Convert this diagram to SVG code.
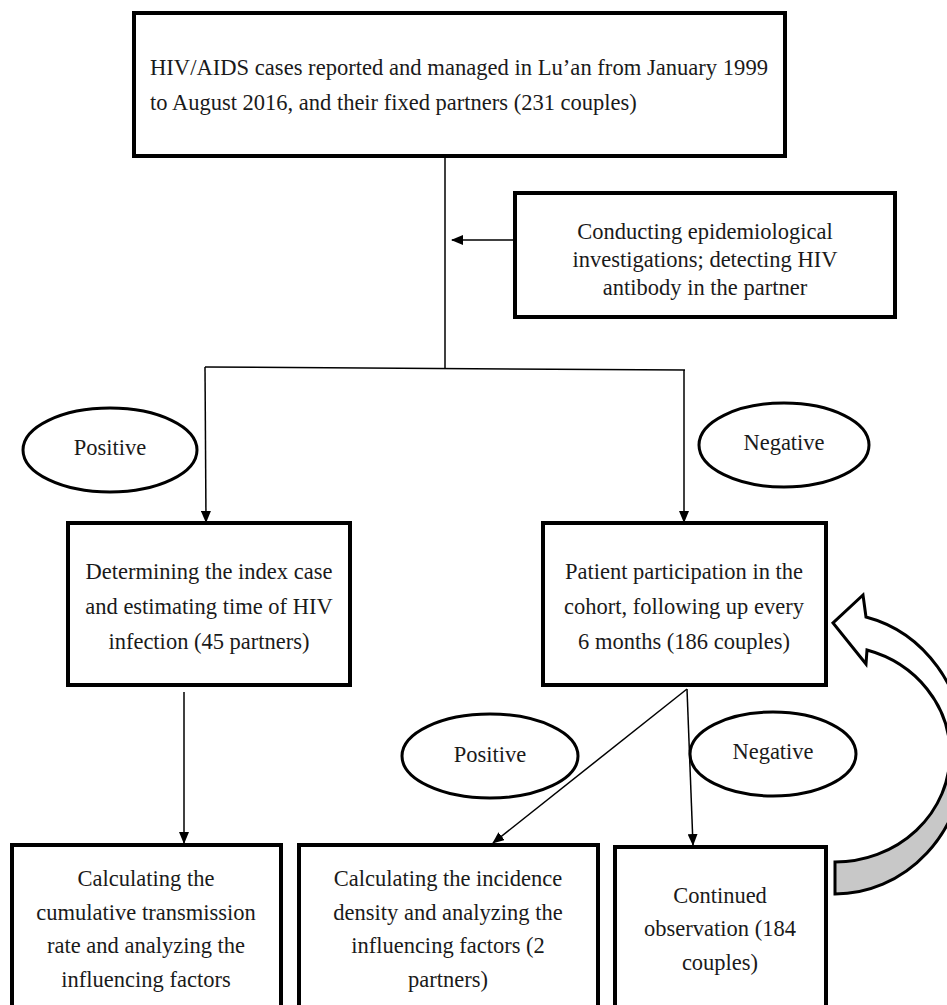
<svg xmlns="http://www.w3.org/2000/svg" width="947" height="1005" viewBox="0 0 947 1005">
<defs>
<style>
.box{fill:#fff;stroke:#000;stroke-width:4}
.ell{fill:#fff;stroke:#000;stroke-width:3}
.t{font-family:"Liberation Serif","Times New Roman",serif;font-size:22.5px;fill:#1a1a1a}
.c{text-anchor:middle}
.ln{fill:none;stroke:#000;stroke-width:1.5}
</style>
<marker id="ah" markerWidth="12" markerHeight="10" refX="11" refY="5" orient="auto" markerUnits="userSpaceOnUse">
<path d="M0,0 L12,5 L0,10 Z" fill="#000"/>
</marker>
</defs>
<rect width="947" height="1005" fill="#fff"/>

<g id="connectors">
<line class="ln" x1="445" y1="156" x2="445" y2="368"/>
<line class="ln" x1="515" y1="240" x2="452" y2="240" marker-end="url(#ah)"/>
<line class="ln" x1="205" y1="367" x2="685" y2="370"/>
<line class="ln" x1="205" y1="367" x2="206" y2="522" marker-end="url(#ah)"/>
<line class="ln" x1="684" y1="370" x2="684" y2="522" marker-end="url(#ah)"/>
<line class="ln" x1="184" y1="692" x2="184" y2="843" marker-end="url(#ah)"/>
<line class="ln" x1="687" y1="689" x2="493" y2="843" marker-end="url(#ah)"/>
<line class="ln" x1="687" y1="689" x2="693" y2="845" marker-end="url(#ah)"/>
</g>

<g id="loop-arrow">
<path d="M835,862 A115,108 0 0 0 950,754 L965,754 A130,140 0 0 1 835,894 Z" fill="#c8c8c8" stroke="#000" stroke-width="3" stroke-linejoin="miter"/>
<path d="M866,617 A130,140 0 0 1 965,754 L950,754 A115,108 0 0 0 867,650 L866,664 L833,623 L863,595 Z" fill="#fff" stroke="#000" stroke-width="3" stroke-linejoin="miter"/>
</g>

<g id="node-top">
<rect class="box" x="134" y="13" width="651" height="143"/>
<text class="t" x="150" y="75" textLength="618" lengthAdjust="spacingAndGlyphs">HIV/AIDS cases reported and managed in Lu’an from January 1999</text>
<text class="t" x="150" y="110">to August 2016, and their fixed partners (231 couples)</text>
</g>

<g id="node-conducting">
<rect class="box" x="515" y="193" width="380" height="124"/>
<text class="t c" x="705" y="239">Conducting epidemiological</text>
<text class="t c" x="705" y="267">investigations; detecting HIV</text>
<text class="t c" x="705" y="295">antibody in the partner</text>
</g>

<g id="label-positive-1">
<ellipse class="ell" cx="110" cy="450" rx="87" ry="42"/>
<text class="t c" x="110" y="455">Positive</text>
</g>

<g id="label-negative-1">
<ellipse class="ell" cx="784" cy="445" rx="85" ry="42"/>
<text class="t c" x="784" y="450">Negative</text>
</g>

<g id="node-index">
<rect class="box" x="68" y="523" width="282" height="162"/>
<text class="t c" x="209" y="579">Determining the index case</text>
<text class="t c" x="209" y="614">and estimating time of HIV</text>
<text class="t c" x="209" y="649">infection (45 partners)</text>
</g>

<g id="node-cohort">
<rect class="box" x="543" y="523" width="283" height="162"/>
<text class="t c" x="684" y="579">Patient participation in the</text>
<text class="t c" x="684" y="614">cohort, following up every</text>
<text class="t c" x="684" y="649">6 months (186 couples)</text>
</g>

<g id="label-positive-2">
<ellipse class="ell" cx="490" cy="756" rx="88" ry="42"/>
<text class="t c" x="490" y="762">Positive</text>
</g>

<g id="label-negative-2">
<ellipse class="ell" cx="773" cy="754" rx="83" ry="42"/>
<text class="t c" x="773" y="759">Negative</text>
</g>

<g id="node-cumulative">
<rect class="box" x="12" y="845" width="269" height="200"/>
<text class="t c" x="146" y="886">Calculating the</text>
<text class="t c" x="146" y="920">cumulative transmission</text>
<text class="t c" x="146" y="953">rate and analyzing the</text>
<text class="t c" x="146" y="987">influencing factors</text>
</g>

<g id="node-incidence">
<rect class="box" x="299" y="845" width="299" height="200"/>
<text class="t c" x="448" y="886">Calculating the incidence</text>
<text class="t c" x="448" y="920">density and analyzing the</text>
<text class="t c" x="448" y="953">influencing factors (2</text>
<text class="t c" x="448" y="987">partners)</text>
</g>

<g id="node-continued">
<rect class="box" x="615" y="847" width="211" height="200"/>
<text class="t c" x="720" y="903">Continued</text>
<text class="t c" x="720" y="936">observation (184</text>
<text class="t c" x="720" y="970">couples)</text>
</g>
</svg>
